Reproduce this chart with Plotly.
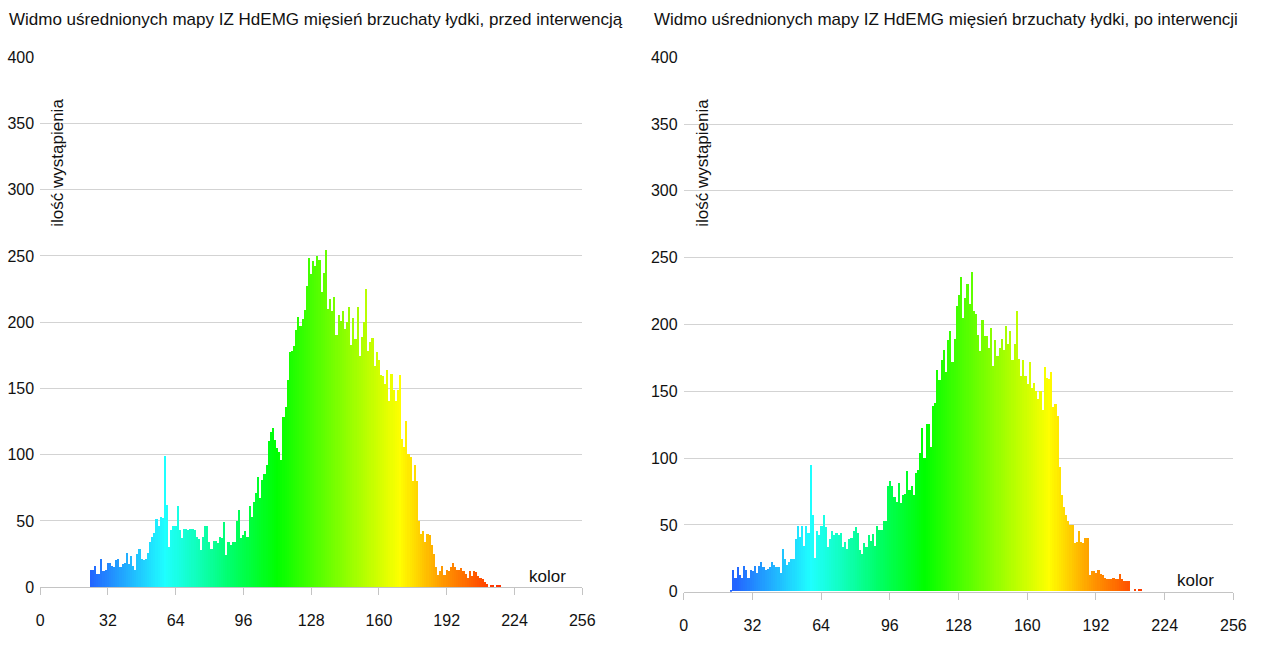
import colorsys
import numpy as np
import plotly.graph_objects as go

# Histogram of averaged IZ HdEMG maps: occurrence count per colour index
kolor_przed_start = 24
ilosc_przed = [
    13, 13, 16, 10, 10, 21, 12, 13, 18, 18, 16, 15, 20, 21, 15, 17, 18, 26, 17, 23,   # 24-43
    16, 13, 25, 29, 21, 20, 21, 26, 34, 38, 41, 51, 46, 53, 52, 99, 62, 30, 43, 46,   # 44-63
    46, 61, 43, 37, 44, 44, 43, 44, 44, 43, 38, 36, 28, 38, 46, 46, 34, 29, 35, 35,   # 64-83
    33, 38, 37, 49, 24, 34, 32, 34, 34, 50, 58, 37, 39, 42, 38, 61, 53, 64, 71, 83,   # 84-103
    67, 81, 85, 92, 110, 117, 120, 111, 105, 102, 96, 128, 136, 156, 177, 178, 182, 194, 204, 197,  # 104-123
    202, 209, 227, 248, 236, 246, 242, 250, 247, 223, 237, 254, 210, 217, 208, 219, 190, 205, 201, 208,  # 124-143
    195, 200, 211, 183, 203, 187, 211, 174, 189, 200, 225, 178, 185, 188, 167, 177, 171, 160, 159, 153,  # 144-163
    164, 140, 161, 149, 140, 149, 160, 112, 106, 125, 100, 98, 80, 92, 80, 50, 40, 42, 34, 40,  # 164-183
    39, 32, 25, 15, 9, 12, 16, 9, 13, 12, 15, 18, 15, 13, 13, 14, 12, 10, 7, 12,   # 184-203
    8, 12, 11, 8, 7, 6, 4, 2, 0, 1, 1, 0, 1, 1,                                   # 204-217
]

kolor_po_start = 22
ilosc_po = [
    1.4, 16, 10, 18, 12, 10, 19, 16, 10, 16, 15, 19, 14, 19, 22, 18, 16, 17, 18, 22,  # 22-41
    20, 18, 18, 14, 32, 24, 20, 22, 24, 24, 39, 49, 41, 49, 34, 49, 44, 95, 57, 25,   # 42-61
    45, 42, 49, 57, 48, 33, 39, 45, 42, 44, 42, 44, 33, 37, 32, 39, 40, 45, 48, 44,   # 62-81
    31, 28, 36, 33, 42, 38, 43, 34, 49, 46, 46, 53, 53, 79, 83, 79, 71, 67, 81, 66,   # 82-101
    72, 73, 90, 76, 79, 72, 89, 91, 104, 122, 100, 125, 125, 108, 139, 141, 166, 158, 173, 181,  # 102-121
    164, 188, 195, 172, 189, 214, 222, 235, 205, 220, 230, 215, 239, 210, 208, 192, 180, 203, 191, 191,  # 122-141
    182, 197, 169, 188, 176, 182, 189, 181, 199, 185, 195, 173, 185, 210, 174, 161, 173, 161, 155, 172,  # 142-161
    152, 156, 150, 144, 150, 136, 168, 160, 159, 164, 138, 140, 131, 93, 72, 63, 57, 53, 50, 50,  # 162-181
    36, 37, 45, 37, 36, 40, 40, 12, 15, 15, 14, 16, 13, 12, 10, 9, 9, 9, 10, 9,     # 182-201
    9, 13, 9, 8, 8, 8, 0, 0, 2, 0, 2, 2,                                           # 202-213
]

x_ticks = [0, 32, 64, 96, 128, 160, 192, 224, 256]
y_ticks = [0, 50, 100, 150, 200, 250, 300, 350, 400]

tytul_przed = "Widmo uśrednionych mapy IZ HdEMG mięsień brzuchaty łydki, przed interwencją"
tytul_po = "Widmo uśrednionych mapy IZ HdEMG mięsień brzuchaty łydki, po interwencji"
y_label = "ilość wystąpienia"
x_label = "kolor"

FONT = "Liberation Sans, Arial, Helvetica, sans-serif"


def bar_colour(k):
    """Rainbow palette: blue -> cyan -> green -> yellow -> orange -> red."""
    hue = np.interp(k, [24, 59, 112, 170, 190, 215], [222, 180, 120, 60, 36, 12])
    sat = np.interp(k, [24, 60, 90], [0.86, 0.88, 1.0])
    r, g, b = colorsys.hsv_to_rgb(hue / 360.0, sat, 1.0)
    return f"rgb({int(r * 255)},{int(g * 255)},{int(b * 255)})"


def histogram_trace(start, counts, xa, ya):
    kolory = list(range(start, start + len(counts)))
    return go.Bar(
        x=kolory,
        y=counts,
        width=1.0,
        marker=dict(color=[bar_colour(k) for k in kolory], line=dict(width=0)),
        xaxis=xa,
        yaxis=ya,
        showlegend=False,
        hoverinfo="x+y",
    )


fig = go.Figure()
fig.add_trace(histogram_trace(kolor_przed_start, ilosc_przed, "x", "y"))
fig.add_trace(histogram_trace(kolor_po_start, ilosc_po, "x2", "y2"))

# The page body keeps its default 8px margin, so the figure is sized to fit
# inside a 1269x650 window; page coordinates are converted to paper units.
PAGE_PAD = 8
W, H = 1269 - 2 * PAGE_PAD, 650 - 2 * PAGE_PAD


def px_x(p):
    return (p - PAGE_PAD) / W


def px_y(p):
    return 1 - (p - PAGE_PAD) / H


axis_x = dict(
    range=[0, 256],
    tickvals=x_ticks,
    ticks="outside",
    ticklen=7,
    tickcolor="#c4c4c4",
    showline=True,
    linecolor="#c4c4c4",
    linewidth=1,
    showgrid=False,
    zeroline=False,
    ticklabelstandoff=12,
    tickfont=dict(family=FONT, size=16, color="#111"),
    fixedrange=True,
)
axis_y = dict(
    range=[0, 400],
    tickvals=y_ticks,
    showgrid=True,
    gridcolor="#d3d3d3",
    gridwidth=1,
    zeroline=False,
    showline=False,
    ticks="",
    ticklabelstandoff=5,
    tickfont=dict(family=FONT, size=16, color="#111"),
    fixedrange=True,
)

fig.update_layout(
    width=W,
    height=H,
    margin=dict(l=0, r=0, t=0, b=0),
    paper_bgcolor="white",
    plot_bgcolor="white",
    bargap=0,
    xaxis=dict(axis_x, domain=[px_x(44.6), px_x(594.2)], anchor="y"),
    yaxis=dict(axis_y, domain=[px_y(608), px_y(59)], anchor="x"),
    xaxis2=dict(axis_x, domain=[px_x(697), px_x(1254.3)], anchor="y2"),
    yaxis2=dict(axis_y, domain=[px_y(612.7), px_y(59)], anchor="x2"),
    font=dict(family=FONT, color="#111"),
)

notes = [
    dict(text=tytul_przed, x=px_x(324), y=px_y(20), size=17, angle=0),
    dict(text=tytul_po, x=px_x(963), y=px_y(20), size=17, angle=0),
    dict(text=y_label, x=px_x(62), y=px_y(168), size=17, angle=-90),
    dict(text=y_label, x=px_x(716), y=px_y(168), size=17, angle=-90),
    dict(text=x_label, x=px_x(559), y=px_y(597), size=17, angle=0),
    dict(text=x_label, x=px_x(1216), y=px_y(601), size=17, angle=0),
]
for n in notes:
    fig.add_annotation(
        text=n["text"], x=n["x"], y=n["y"], xref="paper", yref="paper",
        xanchor="center", yanchor="middle", showarrow=False, textangle=n["angle"],
        font=dict(family=FONT, size=n["size"], color="#111"),
    )

fig.write_html("out.html")
